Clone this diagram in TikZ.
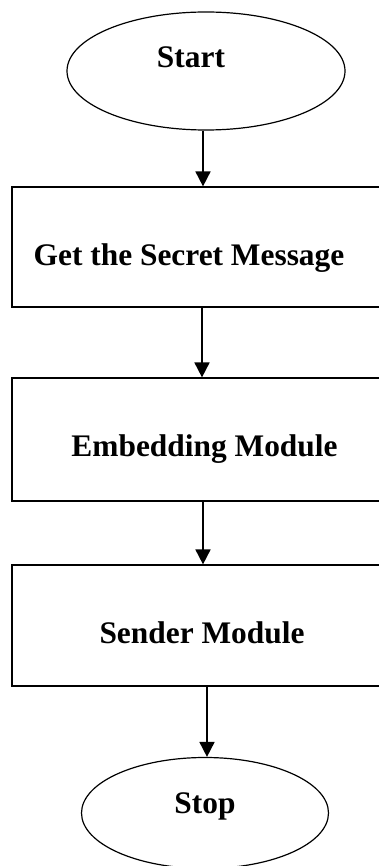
\documentclass[tikz,border=0pt]{standalone}
\usepackage{fontspec}
\setmainfont{Liberation Serif}
\usetikzlibrary{arrows.meta,shapes.geometric}

\begin{document}
\begin{tikzpicture}[x=1pt,y=1pt]
\tikzset{
  terminal/.style={ellipse,draw,line width=1.2pt,inner sep=0pt},
  process/.style={rectangle,draw,line width=1.2pt,inner sep=0pt,minimum width=388pt},
  caption/.style={font=\fontsize{31.4}{36}\selectfont\bfseries,inner sep=0pt},
  flow/.style={-{Triangle[length=15pt,width=15pt]},line width=1.8pt}
}
\useasboundingbox (0,0) rectangle (379,-866);
\clip (0,0) rectangle (379,-866);
\node[terminal,minimum width=278pt,minimum height=118pt,
  label={[caption,xshift=-15pt,yshift=13.5pt]center:Start}] (n_start) at (206,-71) {};
\node[process,minimum height=120pt,
  label={[caption,xshift=-17pt,yshift=-11pt]center:Get the Secret Message}] (n_get) at (206,-247) {};
\node[process,minimum height=123pt,
  label={[caption,xshift=-1.5pt,yshift=-10pt]center:Embedding Module}] (n_embed) at (206,-439.5) {};
\node[process,minimum height=121pt,
  label={[caption,xshift=-4pt,yshift=-7pt]center:Sender Module}] (n_send) at (206,-625.5) {};
\node[terminal,minimum width=247pt,minimum height=111pt,
  label={[caption,yshift=7pt]center:Stop}] (n_stop) at (205,-813) {};
\draw[flow] ([xshift=-3pt]n_start.south) -- ([xshift=-3pt]n_start.south |- n_get.north);
\draw[flow] ([xshift=-4pt]n_get.south) -- ([xshift=-4pt]n_get.south |- n_embed.north);
\draw[flow] ([xshift=-3pt]n_embed.south) -- ([xshift=-3pt]n_embed.south |- n_send.north);
\draw[flow] ([xshift=1pt]n_send.south) -- ([xshift=1pt]n_send.south |- n_stop.north);
\end{tikzpicture}
\end{document}
